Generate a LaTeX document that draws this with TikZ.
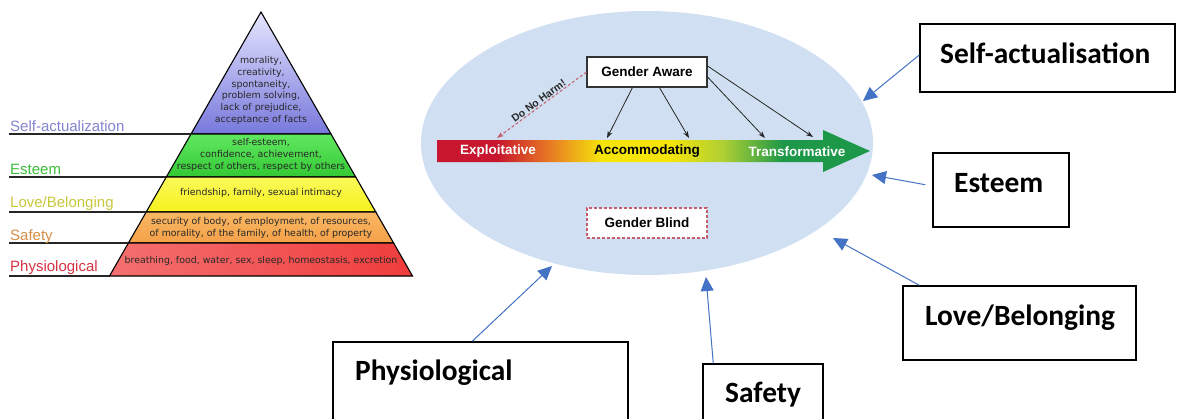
\documentclass[tikz,border=0pt]{standalone}
\usepackage{fontspec}
\setmainfont{Liberation Sans}
\newfontfamily\pyrfont{DejaVu Sans}
\newfontfamily\boxfont{Carlito}
\usetikzlibrary{arrows.meta,shapes.geometric,calc}

\definecolor{exred}{RGB}{200,22,46}
\definecolor{exorange}{RGB}{232,122,36}
\definecolor{exyellow}{RGB}{244,228,10}
\definecolor{exlime}{RGB}{176,208,52}
\definecolor{exgreen}{RGB}{28,152,72}
\definecolor{ellblue}{RGB}{208,224,242}
\definecolor{arrblue}{RGB}{68,114,196}
\definecolor{blindred}{RGB}{196,92,110}
\definecolor{txtgray}{RGB}{40,40,40}

\pgfdeclarehorizontalshading{spectrum}{100bp}{color(0bp)=(exred); color(32bp)=(exred); color(38bp)=(exorange); color(44bp)=(exyellow); color(52bp)=(exyellow); color(58bp)=(exlime); color(65bp)=(exgreen); color(100bp)=(exgreen)}

\tikzset{
  lvl/.style={draw=black, line width=1.1pt, line join=miter},
  pyrtext/.style={font=\pyrfont\fontsize{9.4}{11.8}\selectfont, text=txtgray, align=center, inner sep=0},
  sidelabel/.style={font=\fontsize{15}{15}\selectfont, anchor=base west, inner sep=0},
  sideline/.style={draw=black!85, line width=1.1pt},
  barlabel/.style={font=\bfseries\fontsize{13.5}{13.5}\selectfont, inner sep=0},
  gabox/.style={draw=black!80, line width=1.1pt, fill=white, minimum width=120pt, minimum height=30pt, inner sep=0, font=\bfseries\fontsize{13.5}{13.5}\selectfont},
  blindbox/.style={gabox, draw=blindred, dashed, dash pattern=on 3pt off 2pt},
  garrow/.style={draw=black!85, line width=0.8pt, -{Stealth[length=7pt,width=5pt]}},
  harmarrow/.style={draw=blindred, line width=1pt, dash pattern=on 3pt off 2pt, -{Stealth[length=7pt,width=5pt]}},
  harmtext/.style={sloped, above=0.5pt, font=\bfseries\fontsize{10.5}{10.5}\selectfont, text=txtgray, inner sep=0.5pt},
  catbox/.style={draw=black, line width=1.5pt, fill=white, inner sep=0},
  cattext/.style={font=\boxfont\bfseries\fontsize{29.4}{29.4}\selectfont, anchor=base west, inner sep=0},
  bluearrow/.style={draw=arrblue, line width=1pt, -{Triangle[length=14pt,width=13pt]}}
}

\begin{document}
\begin{tikzpicture}[x=1pt,y=-1pt]
\useasboundingbox (0,0) rectangle (1182,418);
\clip (0,0) rectangle (1182,418);
\fill[white] (0,0) rectangle (1182,418);

% ---- Maslow pyramid ----
\shade[lvl, top color=white!90!blue, bottom color={rgb,255:red,120;green,120;blue,220}]
  (261,12) -- (331,134) -- (191,134) -- cycle;
\shade[lvl, top color={rgb,255:red,96;green,232;blue,96}, bottom color={rgb,255:red,52;green,200;blue,52}]
  (191,134) -- (331,134) -- (355.7,177) -- (166.3,177) -- cycle;
\shade[lvl, top color={rgb,255:red,250;green,250;blue,90}, bottom color={rgb,255:red,246;green,240;blue,30}]
  (166.3,177) -- (355.7,177) -- (375.8,212) -- (146.2,212) -- cycle;
\shade[lvl, top color={rgb,255:red,250;green,184;blue,100}, bottom color={rgb,255:red,244;green,160;blue,72}]
  (146.2,212) -- (375.8,212) -- (393.6,243) -- (128.4,243) -- cycle;
\shade[lvl, left color={rgb,255:red,244;green,112;blue,112}, right color={rgb,255:red,240;green,60;blue,60}]
  (128.4,243) -- (393.6,243) -- (412.5,276) -- (109.5,276) -- cycle;

\node[pyrtext] (p5) at (261,90.5) {morality,\\creativity,\\spontaneity,\\problem solving,\\lack of prejudice,\\acceptance of facts};
\node[pyrtext] (p4) at (261,155) {self-esteem,\\confidence, achievement,\\respect of others, respect by others};
\node[pyrtext] (p3) at (261,193) {friendship, family, sexual intimacy};
\node[pyrtext] (p2) at (261,228) {security of body, of employment, of resources,\\of morality, of the family, of health, of property};
\node[pyrtext] (p1) at (261,261) {breathing, food, water, sex, sleep, homeostasis, excretion};

% level names with their rules
\draw[sideline] (9,134) -- (191,134);
\draw[sideline] (9,177) -- (166.3,177);
\draw[sideline] (9,212) -- (146.2,212);
\draw[sideline] (9,243) -- (128.4,243);
\draw[sideline] (9,276) -- (109.5,276);
\node[sidelabel, text={rgb,255:red,132;green,132;blue,206}] (l5) at (10,131) {Self-actualization};
\node[sidelabel, text={rgb,255:red,60;green,190;blue,60}] (l4) at (10,174) {Esteem};
\node[sidelabel, text={rgb,255:red,200;green,200;blue,60}] (l3) at (10,207.5) {Love/Belonging};
\node[sidelabel, text={rgb,255:red,214;green,144;blue,70}] (l2) at (10,240) {Safety};
\node[sidelabel, text={rgb,255:red,214;green,50;blue,66}] (l1) at (10,271.5) {Physiological};

% ---- gender continuum ----
\node[ellipse, fill=ellblue, minimum width=452pt, minimum height=264pt, inner sep=0] (ell) at (647,143) {};

\shade[shading=spectrum]
  (437,140) -- (823,140) -- (823,130) -- (870,151) -- (823,172) -- (823,162) -- (437,162) -- cycle;
\node[barlabel, text=white] (expl) at (498,151.5) {Exploitative};
\node[barlabel, text=black] (acco) at (647,151.5) {Accommodating};
\node[barlabel, text=white] (tran) at (797,151.5) {Transformative};

\node[gabox] (ga) at (647,72) {Gender Aware};
\node[blindbox] (gb) at (647,223) {Gender Blind};

\coordinate (e0) at (497,138);
\coordinate (e1) at (607,138);
\coordinate (e2) at (689,138);
\coordinate (e3) at (765,138);
\coordinate (e4) at (813,137);
\draw[harmarrow] (ga.west) -- node[harmtext, pos=0.5] {Do No Harm!} (e0);
\draw[garrow] ($(ga.south west)+(46,0)$) -- (e1);
\draw[garrow] ($(ga.south west)+(73,0)$) -- (e2);
\draw[garrow] ($(ga.east)+(0,5)$) -- (e3);
\draw[garrow] ($(ga.east)+(0,-6)$) -- (e4);

% ---- need boxes pointing at the continuum ----
\node[catbox, minimum width=255pt, minimum height=68pt] (sa) at (1047.5,58) {};
\node[cattext] at (940,63) {Self-actualisation};
\node[catbox, minimum width=136pt, minimum height=74pt] (es) at (1001,190) {};
\node[cattext] at (954,192) {Esteem};
\node[catbox, minimum width=233pt, minimum height=74pt] (lb) at (1019.5,323) {};
\node[cattext] at (925,325) {Love/Belonging};
\node[catbox, minimum width=295pt, minimum height=84pt] (ph) at (480.5,384) {};
\node[cattext] at (355,380) {Physiological};
\node[catbox, minimum width=120pt, minimum height=66pt] (sf) at (763,397) {};
\node[cattext] at (725,402) {Safety};

\coordinate (tsa) at (863,101);
\coordinate (tes) at (872,175);
\coordinate (tlb) at (833,238);
\coordinate (tph) at (552,266);
\coordinate (tsf) at (706,277);
\draw[bluearrow] ($(sa.west)+(0,-3)$) -- (tsa);
\draw[bluearrow, shorten <=7pt] ($(es.west)+(0,-4)$) -- (tes);
\draw[bluearrow] ($(lb.north west)+(17,0)$) -- (tlb);
\draw[bluearrow] ($(ph.north west)+(140,0)$) -- (tph);
\draw[bluearrow] ($(sf.north west)+(11,0)$) -- (tsf);
\end{tikzpicture}
\end{document}
